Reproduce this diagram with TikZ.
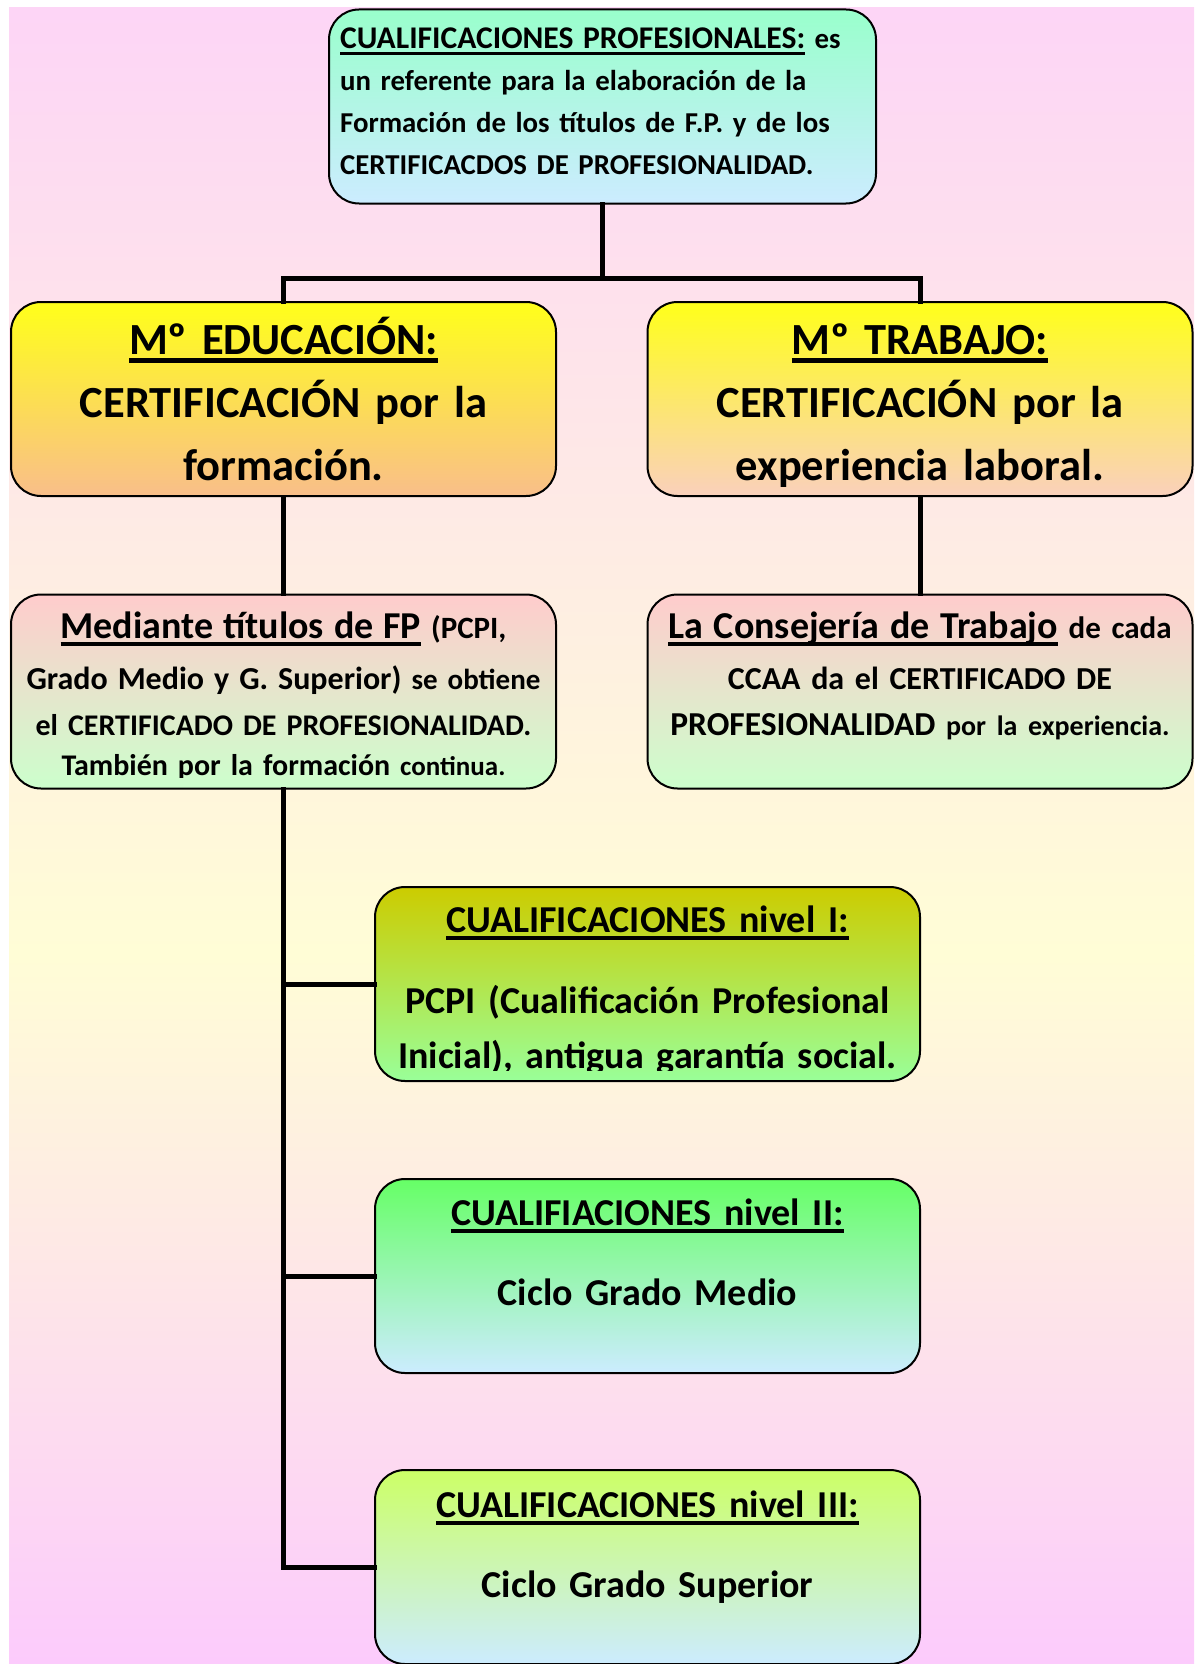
\documentclass[tikz,border=0pt]{standalone}
\usepackage{fontspec}
\setmainfont{Carlito}
\definecolor{fondoa}{HTML}{FDD5F6}
\definecolor{fondob}{HTML}{FFFDD6}
\definecolor{fondoc}{HTML}{FCCBFC}
\definecolor{menta}{HTML}{99FFCC}
\definecolor{celeste}{HTML}{CCECFF}
\definecolor{amarillo}{HTML}{FFFF1A}
\definecolor{naranja}{HTML}{F9BE8A}
\definecolor{melocoton}{HTML}{FAD0BC}
\definecolor{rosa}{HTML}{FFCCCC}
\definecolor{verdeclaro}{HTML}{CCFFCC}
\definecolor{oliva}{HTML}{CCCC00}
\definecolor{verde}{HTML}{99FF99}
\definecolor{verdevivo}{HTML}{66FF66}
\definecolor{lima}{HTML}{CCFF66}
\tikzset{
  every picture/.style={line join=round, line cap=round},
  caja/.style={draw=black, line width=2pt, rounded corners=30pt, inner sep=0pt,
    minimum width=545pt, minimum height=194pt},
  texto/.style={inner sep=0pt, anchor=base, align=center, text width=540pt},
  linea/.style={line width=5pt, line join=miter, line cap=rect},
}
% subrayado grueso
\newcommand\subr[1]{\setbox0\hbox{#1}\rlap{\rule[-0.2em]{\wd0}{0.1em}}\box0\relax}
\newcommand\tam[1]{\fontsize{#1}{46}\selectfont}

\begin{document}
\begin{tikzpicture}[x=1pt,y=-1pt,font=\bfseries]
\useasboundingbox (0,0) rectangle (1194,1664);
\fill[white] (0,0) rectangle (1194,1664);
\fill[top color=fondoa, bottom color=fondob] (9,8) rectangle (1194,955);
\fill[top color=fondob, bottom color=fondoc] (9,955) rectangle (1194,1664);

% cajas
\node[caja, top color=menta, bottom color=celeste, minimum width=547pt] (top) at (602.5,106.5) {};
\node[caja, top color=amarillo, bottom color=naranja] (edu) at (283.5,399) {};
\node[caja, top color=amarillo, bottom color=melocoton] (trab) at (920,399) {};
\node[caja, top color=rosa, bottom color=verdeclaro] (medi) at (283.5,691.5) {};
\node[caja, top color=rosa, bottom color=verdeclaro] (cons) at (920,691.5) {};
\node[caja, top color=oliva, bottom color=verde] (niv1) at (647.5,984) {};
\node[caja, top color=verdevivo, bottom color=celeste] (niv2) at (647.5,1276) {};
\node[caja, top color=lima, bottom color=celeste] (niv3) at (647.5,1567) {};

% conectores
\coordinate (bus) at (602.5,278);
\draw[linea] (top.south) -- (bus);
\draw[linea] (edu.north) |- (bus) -| (trab.north);
\draw[linea] (edu.south) -- (medi.north);
\draw[linea] (trab.south) -- (cons.north);
\draw[linea] (medi.south) |- (niv3.west);
\draw[linea] (medi.south |- niv1.west) -- (niv1.west);
\draw[linea] (medi.south |- niv2.west) -- (niv2.west);

% textos
\node[texto, anchor=base west, align=left, font=\bfseries\fontsize{28.8}{42}\selectfont] (top-t) at (340,49)
  {{\fontsize{31.6}{42}\selectfont\subr{CUALIFICACIONES PROFESIONALES:}} es\\ un referente para la elaboración de la\\
   Formación de los títulos de F.P. y de los\\ CERTIFICACDOS DE PROFESIONALIDAD.};
\node[texto, font=\bfseries\fontsize{44.5}{63}\selectfont] (edu-t) at (283.5,354)
  {\subr{Mº EDUCACIÓN:}\\ CERTIFICACIÓN por la\\ formación.};
\node[texto, font=\bfseries\fontsize{44.5}{63}\selectfont] (trab-t) at (920,354)
  {\subr{Mº TRABAJO:}\\ CERTIFICACIÓN por la\\ experiencia laboral.};
\begin{scope}
\clip (medi.north west) rectangle ([yshift=-2pt]medi.east |- 0,775);
\node[texto, font=\bfseries\tam{30}] (medi-t) at (283.5,638)
  {{\tam{38}\subr{Mediante títulos de FP}} {\tam{31}(PCPI,}\\[5pt]
   {\tam{32}Grado Medio y G. Superior)} {\tam{29}se obtiene}\\
   el CERTIFICADO DE PROFESIONALIDAD.\\[-6pt]
   También por la formación {\tam{27}continua.}};
\end{scope}
\node[texto, font=\bfseries\tam{32}] (cons-t) at (920,638)
  {{\tam{38}\subr{La Consejería de Trabajo}} {\tam{31}de cada}\\[5pt]
   CCAA da el CERTIFICADO DE\\
   {\tam{33.5}PROFESIONALIDAD} {\tam{28}por la experiencia.}};
\begin{scope}
\clip (niv1.north west) rectangle ([yshift=-2pt]niv1.east |- 0,1068);
\node[texto, font=\bfseries\fontsize{38}{55}\selectfont] (niv1-t) at (647.5,932)
  {\subr{CUALIFICACIONES nivel I:}\\[26pt] PCPI (Cualificación Profesional\\ Inicial), antigua garantía social.};
\end{scope}
\node[texto, font=\bfseries\fontsize{38}{80}\selectfont] (niv2-t) at (647.5,1225)
  {\subr{CUALIFIACIONES nivel II:}\\ Ciclo Grado Medio};
\node[texto, font=\bfseries\fontsize{38}{80}\selectfont] (niv3-t) at (647.5,1517)
  {\subr{CUALIFICACIONES nivel III:}\\ Ciclo Grado Superior};
\end{tikzpicture}
\end{document}
